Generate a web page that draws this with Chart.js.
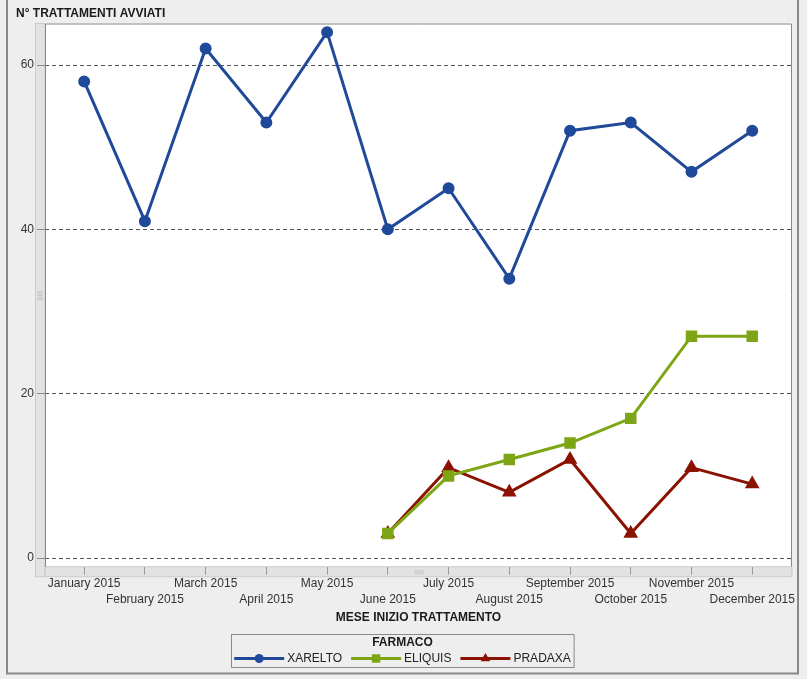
<!DOCTYPE html>
<html>
<head>
<meta charset="utf-8">
<script src="https://cdn.jsdelivr.net/npm/chart.js@4.4.0/dist/chart.umd.min.js"></script>
<style>
  html, body { margin: 0; padding: 0; background: #eeeeee; }
  #wrap { width: 807px; height: 679px; }
</style>
</head>
<body>
<div id="wrap"><canvas id="chart" width="807" height="679"></canvas></div>
<script>
// dati
const mesi = ['January 2015', 'February 2015', 'March 2015', 'April 2015', 'May 2015', 'June 2015',
  'July 2015', 'August 2015', 'September 2015', 'October 2015', 'November 2015', 'December 2015'];
const xarelto = [58, 41, 62, 53, 64, 40, 45, 34, 52, 53, 47, 52];
const eliquis = [null, null, null, null, null, 3, 10, 12, 14, 17, 27, 27];
const pradaxa = [null, null, null, null, null, 3, 11, 8, 12, 3, 11, 9];
const yTicks = [0, 20, 40, 60];

const FONT = "'Liberation Sans', Arial, sans-serif";
Chart.defaults.font.family = FONT;

function punti(arr) {
  return arr.map((v, i) => ({ x: i, y: v }));
}

// sfondo, cornice, area bianca e "scrollbar" grigie
const sfondo = {
  id: 'sfondo',
  beforeDraw(chart) {
    const { ctx, chartArea: a } = chart;
    ctx.save();
    ctx.fillStyle = '#eeeeee';
    ctx.fillRect(0, 0, chart.width, chart.height);
    // cornice esterna
    ctx.strokeStyle = '#888888';
    ctx.lineWidth = 2;
    ctx.beginPath();
    ctx.moveTo(7, 0); ctx.lineTo(7, 673.5); ctx.lineTo(798, 673.5); ctx.lineTo(798, 0);
    ctx.stroke();
    // area grafico
    ctx.fillStyle = '#ffffff';
    ctx.fillRect(a.left, a.top, a.right - a.left, a.bottom - a.top);
    // strisce grigie
    ctx.fillStyle = '#e2e2e2';
    ctx.fillRect(35.5, a.top, a.left - 35.5, a.bottom - a.top + 10);
    ctx.fillRect(a.left, a.bottom, a.right - a.left, 10);
    ctx.lineWidth = 1;
    ctx.strokeStyle = '#cccccc';
    ctx.strokeRect(35.5, a.top, a.left - 35.5, a.bottom - a.top + 10);
    ctx.strokeRect(a.left, a.bottom, a.right - a.left, 10);
    // grip
    ctx.strokeStyle = '#c4c4c4';
    const cx = (a.left + a.right) / 2, cy = (a.top + a.bottom) / 2;
    for (let k = -2; k <= 2; k++) {
      ctx.beginPath(); ctx.moveTo(cx + k * 2 + 0.5, a.bottom + 3); ctx.lineTo(cx + k * 2 + 0.5, a.bottom + 8); ctx.stroke();
      ctx.beginPath(); ctx.moveTo(37.5, cy + k * 2 + 0.5); ctx.lineTo(43, cy + k * 2 + 0.5); ctx.stroke();
    }
    ctx.restore();
  },
  afterDraw(chart) {
    const { ctx, chartArea: a } = chart;
    ctx.save();
    // bordo area
    ctx.strokeStyle = '#888888';
    ctx.lineWidth = 1;
    ctx.beginPath();
    ctx.moveTo(a.left + 0.5, a.bottom); ctx.lineTo(a.left + 0.5, a.top + 0.5);
    ctx.lineTo(a.right - 0.5, a.top + 0.5); ctx.lineTo(a.right - 0.5, a.bottom);
    ctx.stroke();
    // titolo asse Y
    ctx.fillStyle = '#1a1a1a';
    ctx.font = 'bold 12px ' + FONT;
    ctx.textBaseline = 'middle';
    ctx.textAlign = 'left';
    ctx.fillText('N° TRATTAMENTI AVVIATI', 16, 13.5);
    ctx.restore();
  }
};

// legenda con riquadro, linea e marcatore
const legenda = {
  id: 'legenda',
  afterDraw(chart) {
    const { ctx } = chart;
    const ds = chart.data.datasets;
    ctx.save();
    ctx.font = '12px ' + FONT;
    const lineW = 50, gapT = 3, gapI = 9;
    const widths = ds.map(d => lineW + gapT + ctx.measureText(d.label).width);
    const total = widths.reduce((s, w) => s + w, 0) + gapI * (ds.length - 1);
    const cx = 402.5;
    const boxW = total + 6;
    const bx = Math.round(cx - boxW / 2) + 0.5, by = 634.5, bh = 33;
    ctx.strokeStyle = '#8a8a8a';
    ctx.lineWidth = 1;
    ctx.strokeRect(bx, by, boxW, bh);
    ctx.fillStyle = '#1a1a1a';
    ctx.font = 'bold 12px ' + FONT;
    ctx.textAlign = 'center';
    ctx.textBaseline = 'middle';
    ctx.fillText('FARMACO', cx, 643);
    let x = cx - total / 2;
    const y = 658.5;
    ctx.font = '12px ' + FONT;
    ctx.textAlign = 'left';
    ds.forEach((d, i) => {
      ctx.strokeStyle = d.borderColor;
      ctx.lineWidth = 3;
      ctx.beginPath(); ctx.moveTo(x, y); ctx.lineTo(x + lineW, y); ctx.stroke();
      ctx.fillStyle = d.pointBackgroundColor;
      ctx.strokeStyle = d.pointBackgroundColor;
      Chart.helpers.drawPoint(ctx, { pointStyle: d.pointStyle, radius: d.pointRadius, rotation: 0, borderWidth: 0 }, x + lineW / 2, y);
      ctx.fillStyle = '#222222';
      ctx.fillText(d.label, x + lineW + gapT, y + 0.5);
      x += widths[i] + gapI;
    });
    ctx.restore();
  }
};

new Chart(document.getElementById('chart'), {
  type: 'line',
  data: {
    datasets: [
      {
        label: 'XARELTO',
        data: punti(xarelto),
        borderColor: '#204a99',
        backgroundColor: '#204a99',
        pointBackgroundColor: '#204a99',
        pointBorderColor: '#204a99',
        pointStyle: 'circle',
        pointRadius: 4.5,
        borderWidth: 3,
        tension: 0
      },
      {
        label: 'ELIQUIS',
        data: punti(eliquis),
        borderColor: '#7da515',
        backgroundColor: '#7da515',
        pointBackgroundColor: '#7da515',
        pointBorderColor: '#7da515',
        pointStyle: 'rect',
        pointRadius: 6,
        borderWidth: 3,
        tension: 0
      },
      {
        label: 'PRADAXA',
        data: punti(pradaxa),
        borderColor: '#8b1200',
        backgroundColor: '#8b1200',
        pointBackgroundColor: '#8b1200',
        pointBorderColor: '#8b1200',
        pointStyle: 'triangle',
        pointRadius: 5.5,
        borderWidth: 3,
        tension: 0
      }
    ]
  },
  options: {
    responsive: false,
    animation: false,
    devicePixelRatio: 1,
    layout: { padding: { left: 0, right: 15, top: 23.5, bottom: 53.8 } },
    plugins: {
      legend: { display: false },
      tooltip: { enabled: false }
    },
    scales: {
      x: {
        type: 'linear',
        min: -0.645,
        max: 11.655,
        afterBuildTicks: s => { s.ticks = mesi.map((m, i) => ({ value: i })); },
        afterFit: s => { s.height = 58.5; },
        ticks: {
          autoSkip: false,
          maxRotation: 0,
          minRotation: 0,
          padding: 1,
          color: '#333333',
          font: { size: 12, lineHeight: 1.333 },
          callback: v => (v % 2 === 0 ? [mesi[v], ''] : ['', mesi[v]])
        },
        grid: { drawOnChartArea: false, drawTicks: true, tickLength: 8, tickColor: '#999999' },
        border: { display: false },
        title: {
          display: true,
          text: 'MESE INIZIO TRATTAMENTO',
          color: '#1a1a1a',
          font: { size: 12, weight: 'bold' },
          padding: 0
        }
      },
      y: {
        min: -1.05,
        max: 65.05,
        afterBuildTicks: s => { s.ticks = yTicks.map(v => ({ value: v })); },
        afterFit: s => { s.width = 45; },
        ticks: { color: '#333333', font: { size: 12 }, padding: 3 },
        grid: { color: '#555555', lineWidth: 1, tickLength: 8, tickColor: '#888888', tickBorderDash: [] },
        border: { display: false, dash: [4, 3] }
      }
    }
  },
  plugins: [sfondo, legenda]
});
</script>
</body>
</html>
